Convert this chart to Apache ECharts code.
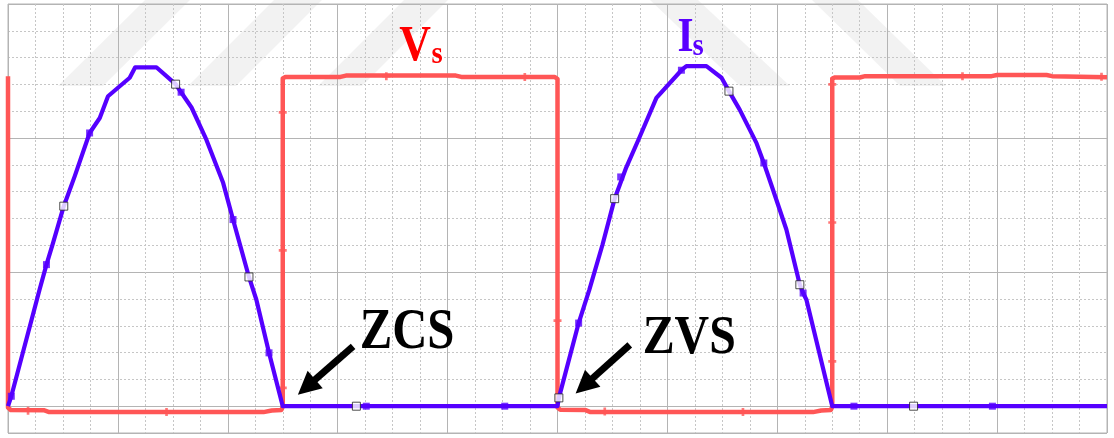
<!DOCTYPE html>
<html>
<head>
<meta charset="utf-8">
<script src="https://cdn.jsdelivr.net/npm/echarts@6/dist/echarts.min.js"></script>
<style>
  html, body { margin: 0; padding: 0; background: #ffffff; }
  #chart { width: 1114px; height: 438px; }
</style>
</head>
<body>
<div id="chart"></div>
<script>
// Time in grid divisions (40 across), amplitude in grid divisions (zero line at 0).

// Switch voltage Vs (square wave)
const vsWave = [
  [0, 12.31], [0, -0.05], [0.1, -0.14], [1.3, -0.15], [1.5, -0.22], [9.3, -0.22], [9.6, -0.16],
  [9.95, -0.14], [10, -0.02], [10, 12.22], [10.1, 12.28], [12.1, 12.28], [12.3, 12.33],
  [16.3, 12.33], [16.5, 12.28], [19.9, 12.28], [20, 12.2], [20, -0.05], [20.1, -0.13],
  [21.0, -0.14], [21.2, -0.22], [29.3, -0.22], [29.6, -0.16], [29.95, -0.14], [30, -0.02],
  [30, 12.22], [30.1, 12.26], [31.0, 12.26], [31.2, 12.31], [35.8, 12.31], [36.0, 12.35],
  [37.8, 12.35], [38.0, 12.31], [40, 12.27]
];
const vsMarks = [
  [0.73, -0.17], [5.77, -0.22], [10, 0.68], [10, 5.81], [10, 10.96], [13.77, 12.31],
  [18.81, 12.28], [20, 3.19], [21.72, -0.2], [26.75, -0.22], [30, 1.67], [30, 6.85],
  [30, 12.0], [34.74, 12.31], [39.8, 12.29]
];

// Switch current Is (resonant half-sine pulses)
const isWave = [
  [0, 0], [0.12, 0.37], [1.15, 4.35], [1.40, 5.28], [1.64, 6.09], [2.03, 7.46], [2.43, 8.58],
  [2.97, 10.19], [3.34, 10.75], [3.64, 11.56], [4.43, 12.25], [4.63, 12.64], [5.40, 12.64],
  [6.10, 12.01], [6.30, 11.71], [6.68, 11.14], [7.22, 9.94], [7.83, 8.33], [8.19, 6.96],
  [8.77, 4.82], [9.04, 3.97], [9.50, 1.99], [10, 0],
  [20, 0], [20.05, 0.31], [20.77, 3.10], [21.16, 4.35], [21.64, 6.03], [22.08, 7.74],
  [22.5, 8.9], [22.99, 10.04], [23.60, 11.5], [24.51, 12.53], [24.69, 12.68], [25.42, 12.68],
  [25.97, 12.25], [26.24, 11.75], [26.63, 11.06], [27.24, 9.82], [27.51, 9.07], [27.84, 8.08],
  [28.33, 6.59], [28.82, 4.53], [28.94, 4.22], [29.06, 3.97], [30, 0], [40, 0]
];
const isSolidMarks = [
  [0.12, 0.37], [1.40, 5.28], [2.97, 10.19], [6.30, 11.71], [8.19, 6.96], [9.50, 1.99],
  [13.04, 0], [18.08, 0], [20.77, 3.10], [22.3, 8.55], [24.51, 12.53], [27.51, 9.07],
  [28.94, 4.22], [30.79, 0], [35.83, 0]
];
const isHollowMarks = [
  [2.03, 7.46], [6.10, 12.01], [8.77, 4.82], [12.68, 0], [20.05, 0.31], [22.08, 7.74],
  [26.24, 11.75], [28.82, 4.53], [32.96, 0]
];

// Annotation layout (data coordinates)
const notes = {
  vs:  { main: 'V', sub: 's', at: [14.24, 13.4], subAt: [15.41, 13.1], color: '#ff0000' },
  is:  { main: 'I', sub: 's', at: [24.37, 13.7], subAt: [24.91, 13.42], color: '#5a00ff' },
  zcs: { text: 'ZCS', at: [12.8, 2.72], from: [12.56, 2.23], to: [10.55, 0.43] },
  zvs: { text: 'ZVS', at: [23.1, 2.52], from: [22.63, 2.29], to: [20.66, 0.47] }
};

const RED = '#ff5656';
const BLUE = '#5500ff';
const plus = 'path://M-1,-3H1V-1H3V1H1V3H-1V1H-3V-1H-1Z';

const hiddenAxis = {
  axisLine: { show: false }, axisTick: { show: false }, axisLabel: { show: false }
};

const chart = echarts.init(document.getElementById('chart'));
chart.setOption({
  animation: false,
  backgroundColor: '#ffffff',
  grid: { left: 8, right: 7, top: 4, bottom: 5, show: true, borderColor: '#b4b4b4', borderWidth: 1 },
  xAxis: [
    Object.assign({ type: 'value', min: 0, max: 40, interval: 1,
      splitLine: { show: true, lineStyle: { color: '#c6c6c6', width: 1, type: [2, 2] } } }, hiddenAxis),
    Object.assign({ type: 'value', min: 0, max: 40, interval: 4, position: 'bottom',
      splitLine: { show: true, lineStyle: { color: '#b4b4b4', width: 1 } } }, hiddenAxis)
  ],
  yAxis: [
    Object.assign({ type: 'value', min: -1, max: 15, interval: 1,
      splitLine: { show: true, lineStyle: { color: '#c6c6c6', width: 1, type: [2, 2] } } }, hiddenAxis),
    Object.assign({ type: 'value', min: 0, max: 16, interval: 5, inverse: true,
      splitLine: { show: true, lineStyle: { color: '#b4b4b4', width: 1 } } }, hiddenAxis)
  ],
  series: [
    {
      name: 'Vs', type: 'line', data: vsWave, showSymbol: false, z: 3,
      lineStyle: { color: RED, width: 4.5, join: 'round' }
    },
    {
      name: 'Vs marks', type: 'scatter', data: vsMarks, symbol: plus, symbolSize: 8, z: 4,
      itemStyle: { color: RED }
    },
    {
      name: 'Is', type: 'line', data: isWave, showSymbol: false, z: 5,
      lineStyle: { color: BLUE, width: 4.2, join: 'round' }
    },
    {
      name: 'Is marks', type: 'scatter', data: isSolidMarks, symbol: 'rect', symbolSize: 7, z: 6,
      itemStyle: { color: BLUE }
    },
    {
      name: 'Is samples', type: 'scatter', data: isHollowMarks, symbol: 'rect', symbolSize: 8, z: 7,
      itemStyle: { color: '#ffffff', borderColor: '#222222', borderWidth: 1 }
    }
  ]
});

function px(p) {
  return chart.convertToPixel({ xAxisIndex: 0, yAxisIndex: 0 }, p);
}

function textEl(str, at, size, color, sx) {
  const p = px(at);
  return {
    type: 'text', x: p[0], y: p[1], scaleX: sx, z: 20, silent: true,
    style: {
      text: str, x: 0, y: 0, fill: color,
      fontSize: size, fontWeight: 'bold', fontFamily: 'Liberation Serif',
      textAlign: 'left', verticalAlign: 'middle'
    }
  };
}

function arrowEls(from, to) {
  const a = px(from), b = px(to);
  const dx = b[0] - a[0], dy = b[1] - a[1];
  const len = Math.sqrt(dx * dx + dy * dy);
  const ux = dx / len, uy = dy / len;
  const headLen = 23, halfW = 11.5;
  const bx = b[0] - ux * headLen, by = b[1] - uy * headLen;
  return [
    {
      type: 'line', z: 20, silent: true,
      shape: { x1: a[0], y1: a[1], x2: bx + ux * 2, y2: by + uy * 2 },
      style: { stroke: '#000000', lineWidth: 7, lineCap: 'butt' }
    },
    {
      type: 'polygon', z: 20, silent: true,
      shape: { points: [[b[0], b[1]], [bx - uy * halfW, by + ux * halfW], [bx + uy * halfW, by - ux * halfW]] },
      style: { fill: '#000000' }
    }
  ];
}

// faint diagonal watermark bands across the top
const bands = [
  [[58, 86], [103, 86], [190, 0], [145, 0]],
  [[188, 86], [236, 86], [322, 0], [274, 0]],
  [[318, 86], [362, 86], [448, 0], [404, 0]],
  [[650, 0], [698, 0], [790, 86], [740, 86]],
  [[812, 0], [858, 0], [946, 86], [900, 86]]
];

const graphics = [];
bands.forEach(function (pts) {
  graphics.push({ type: 'polygon', z: -1, silent: true, shape: { points: pts },
    style: { fill: 'rgba(0,0,0,0.05)' } });
});
graphics.push(textEl(notes.vs.main, notes.vs.at, 51, notes.vs.color, 0.86));
graphics.push(textEl(notes.vs.sub, notes.vs.subAt, 32, notes.vs.color, 0.9));
graphics.push(textEl(notes.is.main, notes.is.at, 48, notes.is.color, 0.86));
graphics.push(textEl(notes.is.sub, notes.is.subAt, 32, notes.is.color, 0.9));
graphics.push(textEl(notes.zcs.text, notes.zcs.at, 56, '#000000', 0.87));
graphics.push(textEl(notes.zvs.text, notes.zvs.at, 55, '#000000', 0.87));
Array.prototype.push.apply(graphics, arrowEls(notes.zcs.from, notes.zcs.to));
Array.prototype.push.apply(graphics, arrowEls(notes.zvs.from, notes.zvs.to));

chart.setOption({ graphic: graphics });
</script>
</body>
</html>
